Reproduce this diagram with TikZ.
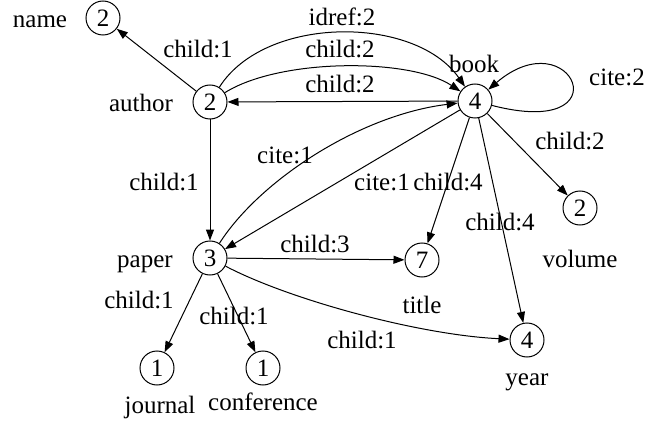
\documentclass[tikz,border=0pt]{standalone}
\usepackage{fontspec}
\setmainfont{Liberation Serif}
\usetikzlibrary{arrows.meta}
\begin{document}
\begin{tikzpicture}[x=1pt,y=-1pt,
  every node/.style={font=\fontsize{25}{30}\selectfont, inner sep=0pt},
  vtx/.style={circle,draw,line width=1pt,minimum size=34pt},
  lbl/.style={anchor=base},
  arr/.style={line width=1pt,-{Triangle[length=11pt,width=8pt]}}]
\useasboundingbox (0,0) rectangle (648,425);
% vertices
\node[vtx] (name) at (103,18) {2};
\node[vtx] (author) at (210,102) {2};
\node[vtx] (book) at (475,101) {4};
\node[vtx] (paper) at (210,258) {3};
\node[vtx] (title) at (422,260) {7};
\node[vtx] (volume) at (580,208) {2};
\node[vtx] (year) at (527,340) {4};
\node[vtx] (journal) at (157,368) {1};
\node[vtx] (conf) at (263,368) {1};
% vertex names
\node[lbl] (tname) at (40,28) {name};
\node[lbl] (tauthor) at (141,112) {author};
\node[lbl] (tbook) at (474,73) {book};
\node[lbl] (tpaper) at (145,267) {paper};
\node[lbl] (ttitle) at (422,313) {title};
\node[lbl] (tvolume) at (580,267) {volume};
\node[lbl] (tyear) at (527,385) {year};
\node[lbl] (tjournal) at (160,413) {journal};
\node[lbl] (tconf) at (263,410) {conference};
% edges
\draw[arr] (author) -- (name);
\draw[arr] (author) .. controls (265,15) and (415,15) .. (book);
\draw[arr] (author) .. controls (280,58) and (410,58) .. (book);
\draw[arr] (book) -- (author);
\draw[arr] (book) .. controls (625,140) and (572,18) .. (book);
\draw[arr] (book) -- (volume);
\draw[arr] (paper) .. controls (260,180) and (360,115) .. (book);
\draw[arr] (book) -- (paper);
\draw[arr] (book) -- (title);
\draw[arr] (book) -- (year);
\draw[arr] (author) -- (paper);
\draw[arr] (paper) -- (title);
\draw[arr] (paper) -- (journal);
\draw[arr] (paper) -- (conf);
\draw[arr] (paper) .. controls (290,300) and (420,335) .. (year);
% edge labels
\node (e1) at (198,49) {child:1};
\node (e2) at (342,17) {idref:2};
\node (e3) at (340,49) {child:2};
\node (e4) at (340,84) {child:2};
\node (e5) at (617,77) {cite:2};
\node (e6) at (570,141) {child:2};
\node (e7) at (285,155) {cite:1};
\node (e8) at (382,182) {cite:1};
\node (e9) at (448,182) {child:4};
\node (e10) at (500,222) {child:4};
\node (e11) at (164,182) {child:1};
\node (e12) at (315,244) {child:3};
\node (e13) at (139,300) {child:1};
\node (e14) at (234,316) {child:1};
\node (e15) at (362,340) {child:1};
\end{tikzpicture}
\end{document}
